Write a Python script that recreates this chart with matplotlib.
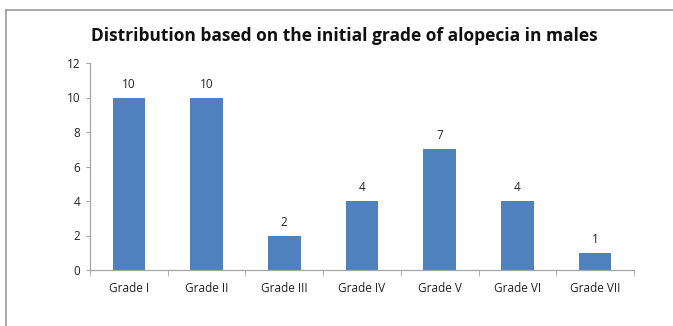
import matplotlib
matplotlib.use("Agg")
import matplotlib.pyplot as plt
from matplotlib.lines import Line2D

categories = ["Grade I", "Grade II", "Grade III", "Grade IV", "Grade V", "Grade VI", "Grade VII"]
counts = [10, 10, 2, 4, 7, 4, 1]
y_ticks = [0, 2, 4, 6, 8, 10, 12]
title = "Distribution based on the initial grade of alopecia in males"

plt.rcParams["font.family"] = ["Open Sans", "DejaVu Sans"]

fig = plt.figure(figsize=(6.73, 3.26), dpi=100)
ax = fig.add_axes([90 / 673, 1 - 270 / 326, 544 / 673, 207 / 326])

bar_color = "#4F81BD"
x = list(range(len(categories)))
bars = ax.bar(x, counts, width=0.42, color=bar_color, zorder=2)
for xi, v in zip(x, counts):
    ax.text(xi, v + 0.4, str(v), ha="center", va="bottom", fontsize=8.5, color="#222222")

ax.set_xlim(-0.5, len(categories) - 0.5)
ax.set_ylim(0, 12)
ax.set_yticks(y_ticks)
ax.set_yticklabels([str(t) for t in y_ticks], fontsize=8.5, color="#222222")
ax.set_xticks(x)
ax.set_xticklabels(categories, fontsize=8.5, color="#222222")
ax.tick_params(axis="x", length=0, pad=9)
ax.tick_params(axis="y", length=3, color="#a6a6a6", pad=4)

# category boundary ticks on the x axis
ax.set_xticks([i - 0.5 for i in range(len(categories) + 1)], minor=True)
ax.tick_params(axis="x", which="minor", length=4, color="#a6a6a6")

for side in ["top", "right"]:
    ax.spines[side].set_visible(False)
for side in ["left", "bottom"]:
    ax.spines[side].set_color("#a6a6a6")
    ax.spines[side].set_linewidth(0.9)

fig.text(344 / 673, 1 - 36 / 326, title, ha="center", va="center",
         fontsize=12.5, fontweight="bold", color="#111111")

# outer frame lines
frame_color = "#9a9a9a"
fig.add_artist(Line2D([6 / 673, 1.0], [1 - 10 / 326, 1 - 10 / 326],
                      transform=fig.transFigure, color=frame_color, lw=1.2))
fig.add_artist(Line2D([6 / 673, 6 / 673], [0.0, 1 - 10 / 326],
                      transform=fig.transFigure, color=frame_color, lw=1.2))

fig.savefig("out.png", dpi=100)
